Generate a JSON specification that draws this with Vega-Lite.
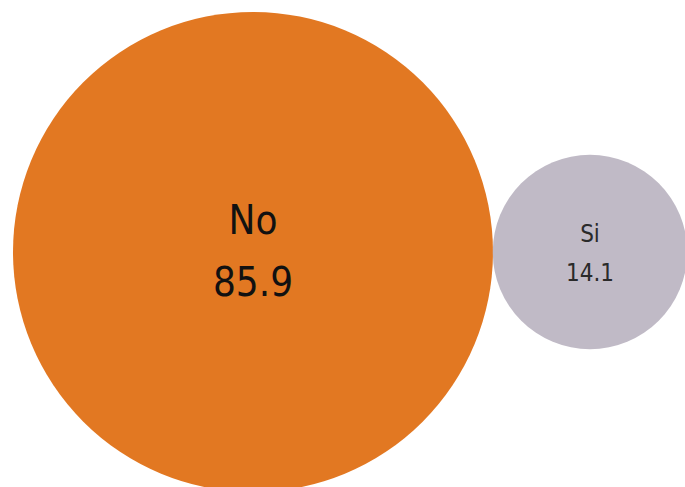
{
  "$schema": "https://vega.github.io/schema/vega-lite/v6.json",
  "width": 685,
  "height": 470,
  "padding": {"top": 17, "left": 0, "right": 0, "bottom": 0},
  "autosize": {"type": "none"},
  "background": "white",
  "config": {"view": {"stroke": null}},
  "data": {
    "values": [
      {"respuesta": "No", "valor": 85.9},
      {"respuesta": "Si", "valor": 14.1}
    ]
  },
  "encoding": {
    "x": {
      "field": "valor",
      "type": "quantitative",
      "scale": {"domain": [139.8, -6.14], "nice": false, "zero": false},
      "axis": null
    }
  },
  "layer": [
    {
      "mark": {"type": "point", "shape": "circle", "filled": true, "opacity": 1, "strokeWidth": 0},
      "encoding": {
        "size": {
          "field": "valor",
          "type": "quantitative",
          "scale": {"domain": [0, 85.9], "range": [0, 230400], "zero": true},
          "legend": null
        },
        "color": {
          "field": "respuesta",
          "type": "nominal",
          "scale": {"domain": ["No", "Si"], "range": ["#E27822", "#C0BAC6"]},
          "legend": null
        }
      }
    },
    {
      "transform": [{"filter": "datum.respuesta === 'No'"}],
      "mark": {"type": "text", "font": "DejaVu Sans Condensed, Roboto Condensed, sans-serif", "fontSize": 40, "baseline": "middle", "align": "center", "dy": -30, "color": "#111111"},
      "encoding": {"text": {"field": "respuesta"}}
    },
    {
      "transform": [{"filter": "datum.respuesta === 'No'"}],
      "mark": {"type": "text", "font": "DejaVu Sans Condensed, Roboto Condensed, sans-serif", "fontSize": 40, "baseline": "middle", "align": "center", "dy": 32, "color": "#111111"},
      "encoding": {"text": {"field": "valor", "format": ".1f"}}
    },
    {
      "transform": [{"filter": "datum.respuesta === 'Si'"}],
      "mark": {"type": "text", "font": "DejaVu Sans Condensed, Roboto Condensed, sans-serif", "fontSize": 24, "baseline": "middle", "align": "center", "dy": -17, "color": "#2a2a2a"},
      "encoding": {"text": {"field": "respuesta"}}
    },
    {
      "transform": [{"filter": "datum.respuesta === 'Si'"}],
      "mark": {"type": "text", "font": "DejaVu Sans Condensed, Roboto Condensed, sans-serif", "fontSize": 24, "baseline": "middle", "align": "center", "dy": 22, "color": "#2a2a2a"},
      "encoding": {"text": {"field": "valor", "format": ".1f"}}
    }
  ]
}
